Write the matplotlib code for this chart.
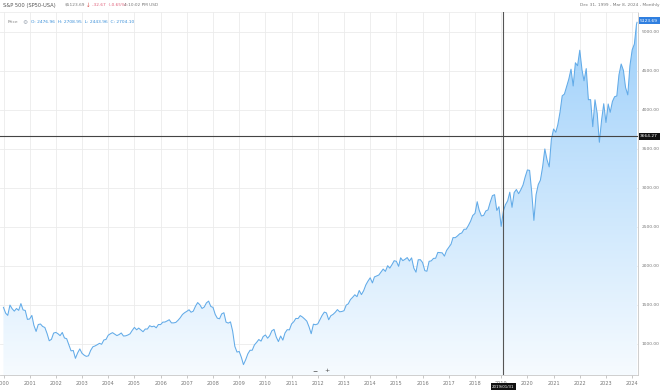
import numpy as np
import pandas as pd
import matplotlib
matplotlib.use("Agg")
import matplotlib.pyplot as plt

# monthly closes, Dec 1999 .. Feb 2024, plus Mar 8 2024
closes = [
    1469.25,
    1394.46, 1366.42, 1498.58, 1452.43, 1420.60, 1454.60, 1430.83, 1517.68, 1436.51, 1429.40, 1314.95, 1320.28,
    1366.01, 1239.94, 1160.33, 1249.46, 1255.82, 1224.42, 1211.23, 1133.58, 1040.94, 1059.78, 1139.45, 1148.08,
    1130.20, 1106.73, 1147.39, 1076.92, 1067.14, 989.82, 911.62, 916.07, 815.28, 885.76, 936.31, 879.82,
    855.70, 841.15, 848.18, 916.92, 963.59, 974.50, 990.31, 1008.01, 995.97, 1050.71, 1058.20, 1111.92,
    1131.13, 1144.94, 1126.21, 1107.30, 1120.68, 1140.84, 1101.72, 1104.24, 1114.58, 1130.20, 1173.82, 1211.92,
    1181.27, 1203.60, 1180.59, 1156.85, 1191.50, 1191.33, 1234.18, 1220.33, 1228.81, 1207.01, 1249.48, 1248.29,
    1280.08, 1280.66, 1294.83, 1310.61, 1270.09, 1270.20, 1276.66, 1303.82, 1335.85, 1377.94, 1400.63, 1418.30,
    1438.24, 1406.82, 1420.86, 1482.37, 1530.62, 1503.35, 1455.27, 1473.99, 1526.75, 1549.38, 1481.14, 1468.36,
    1378.55, 1330.63, 1322.70, 1385.59, 1400.38, 1280.00, 1267.38, 1282.83, 1166.36, 968.75, 896.24, 903.25,
    825.88, 735.09, 797.87, 872.81, 919.14, 919.32, 987.48, 1020.62, 1057.08, 1036.19, 1095.63, 1115.10,
    1073.87, 1104.49, 1169.43, 1186.69, 1089.41, 1030.71, 1101.60, 1049.33, 1141.20, 1183.26, 1180.55, 1257.64,
    1286.12, 1327.22, 1325.83, 1363.61, 1345.20, 1320.64, 1292.28, 1218.89, 1131.42, 1253.30, 1246.96, 1257.60,
    1312.41, 1365.68, 1408.47, 1397.91, 1310.33, 1362.16, 1379.32, 1406.58, 1440.67, 1412.16, 1416.18, 1426.19,
    1498.11, 1514.68, 1569.19, 1597.57, 1630.74, 1606.28, 1685.73, 1632.97, 1681.55, 1756.54, 1805.81, 1848.36,
    1782.59, 1859.45, 1872.34, 1883.95, 1923.57, 1960.23, 1930.67, 2003.37, 1972.29, 2018.05, 2067.56, 2058.90,
    1994.99, 2104.50, 2067.89, 2085.51, 2107.39, 2063.11, 2103.84, 1972.18, 1920.03, 2079.36, 2080.41, 2043.94,
    1940.24, 1932.23, 2059.74, 2065.30, 2096.95, 2098.86, 2173.60, 2170.95, 2168.27, 2126.15, 2198.81, 2238.83,
    2278.87, 2363.64, 2362.72, 2384.20, 2411.80, 2423.41, 2470.30, 2471.65, 2519.36, 2575.26, 2647.58, 2673.61,
    2823.81, 2713.83, 2640.87, 2648.05, 2705.27, 2718.37, 2816.29, 2901.52, 2913.98, 2711.74, 2760.17, 2506.85,
    2704.10, 2784.49, 2834.40, 2945.83, 2752.06, 2941.76, 2980.38, 2926.46, 2976.74, 3037.56, 3140.98, 3230.78,
    3225.52, 2954.22, 2584.59, 2912.43, 3044.31, 3100.29, 3271.12, 3500.31, 3363.00, 3269.96, 3621.63, 3756.07,
    3714.24, 3811.15, 3972.89, 4181.17, 4204.11, 4297.50, 4395.26, 4522.68, 4307.54, 4605.38, 4567.00, 4766.18,
    4515.55, 4373.94, 4530.41, 4131.93, 4132.15, 3785.38, 4130.29, 3955.00, 3585.62, 3871.98, 4080.11, 3839.50,
    4076.60, 3970.15, 4109.31, 4169.48, 4179.83, 4450.38, 4588.96, 4507.66, 4288.05, 4193.80, 4567.80, 4769.83,
    4845.65, 5096.27, 5123.69,
]
dates = list(pd.date_range("1999-12-31", periods=len(closes) - 1, freq="ME")) + [pd.Timestamp("2024-03-08")]
years = list(range(2000, 2025))
yticks = [1000, 1500, 2000, 2500, 3000, 3500, 4000, 4500, 5000]

header = "S&P 500 (SP50-USA)"
last_price = "$5123.69"
change = "-32.67  (-0.65%)"
time_txt = "4:10:02 PM USD"
range_txt = "Dec 31, 1999 - Mar 8, 2024 , Monthly"
ohlc = "O: 2476.96  H: 2708.95  L: 2443.96  C: 2704.10"
cross_value = 3664.27
cross_date = pd.Timestamp("2019-01-31")
cross_label = "2019/01/31"


def dec_year(d):
    return d.year + (d.dayofyear - 1) / (366 if d.is_leap_year else 365)


t = np.array([dec_year(d) for d in dates])
y = np.array(closes)

fig = plt.figure(figsize=(6.62, 3.91), dpi=100)
ax = fig.add_axes([0, 1 - 375 / 391, 638 / 662, (375 - 12) / 391])
x0, x1 = 1999.866, 2024.22
y0, y1 = 602, 5256
ax.set_xlim(x0, x1)
ax.set_ylim(y0, y1)

# gradient fill under the line
grad = np.linspace(1, 0, 256).reshape(-1, 1)
cmap = matplotlib.colors.LinearSegmentedColormap.from_list("g", ["#f6fbff", "#9ccffa"])
img = ax.imshow(grad, extent=[x0, x1, y0, y1], aspect="auto", cmap=cmap,
                vmin=0, vmax=1, origin="upper", zorder=1)
poly = ax.fill_between(t, y, y0, facecolor="none", edgecolor="none")
img.set_clip_path(poly.get_paths()[0], transform=ax.transData)
ax.plot(t, y, color="#62abe8", lw=0.75, zorder=3)

# grid
for yr in years:
    ax.axvline(yr, color="#ebebeb", lw=0.6, zorder=0.5)
for v in yticks:
    ax.axhline(v, color="#ebebeb", lw=0.6, zorder=0.5)

ax.spines["left"].set_visible(False)
for s in ["top", "right", "bottom"]:
    ax.spines[s].set_color("#c8c8c8")
    ax.spines[s].set_linewidth(0.6)
ax.spines["top"].set_color("#ececec")

ax.set_xticks(years)
ax.set_xticklabels([str(v) for v in years])
ax.tick_params(axis="x", length=2, width=0.5, color="#b0b0b0", labelsize=3.6,
               labelcolor="#777777", pad=2)
ax.yaxis.tick_right()
ax.set_yticks(yticks)
ax.set_yticklabels([f"{v:.2f}" for v in yticks])
ax.tick_params(axis="y", length=0, labelsize=3.2, labelcolor="#777777", pad=2.5)

# crosshair
cx = dec_year(cross_date)
ax.axvline(cx, color="#555555", lw=0.8, zorder=4)
ax.axhline(cross_value, color="#444444", lw=0.8, zorder=4)
ax.text(x1 + 0.08, cross_value, f"{cross_value:.2f}", fontsize=3.2, color="white",
        va="center", ha="left", zorder=6, clip_on=False,
        bbox=dict(boxstyle="square,pad=0.35", fc="#111111", ec="none"))
ax.text(cx, y0 - 150, cross_label, fontsize=2.8, color="white", ha="center", va="center",
        zorder=6, clip_on=False,
        bbox=dict(boxstyle="square,pad=0.4", fc="#111111", ec="none"))
ax.text(x1 + 0.08, closes[-1] + 20, f"{closes[-1]:.2f}", fontsize=3.2, color="white",
        va="center", ha="left", zorder=6, clip_on=False,
        bbox=dict(boxstyle="square,pad=0.35", fc="#2f7fe0", ec="none"))

# header texts
hy = 1 - 5 / 391
fig.text(3 / 662, hy, header, fontsize=3.7, color="#555555", va="center")
fig.text(65 / 662, hy, last_price, fontsize=3.1, color="#777777", va="center")
fig.text(86 / 662, hy, "\u2193", fontsize=4.0, color="#d9534f", va="center")
fig.text(92 / 662, hy, change, fontsize=3.1, color="#e0607a", va="center")
fig.text(124 / 662, hy, time_txt, fontsize=3.1, color="#777777", va="center")
fig.text(659 / 662, hy, range_txt, fontsize=3.1, color="#777777", va="center", ha="right")

py = 1 - 22 / 391
fig.text(8 / 662, py, "Price", fontsize=3.2, color="#888888", va="center")
fig.text(22 / 662, py, "\u2699", fontsize=4.2, color="#9aa4b0", va="center")
fig.text(31 / 662, py, ohlc, fontsize=3.2, color="#3a8fd8", va="center")

fig.text(315 / 662, 1 - 371 / 391, "\u2212", fontsize=4.5, color="#444444", va="center", ha="center")
fig.text(327 / 662, 1 - 371 / 391, "+", fontsize=4.5, color="#444444", va="center", ha="center")

fig.savefig("out.png", dpi=100)
